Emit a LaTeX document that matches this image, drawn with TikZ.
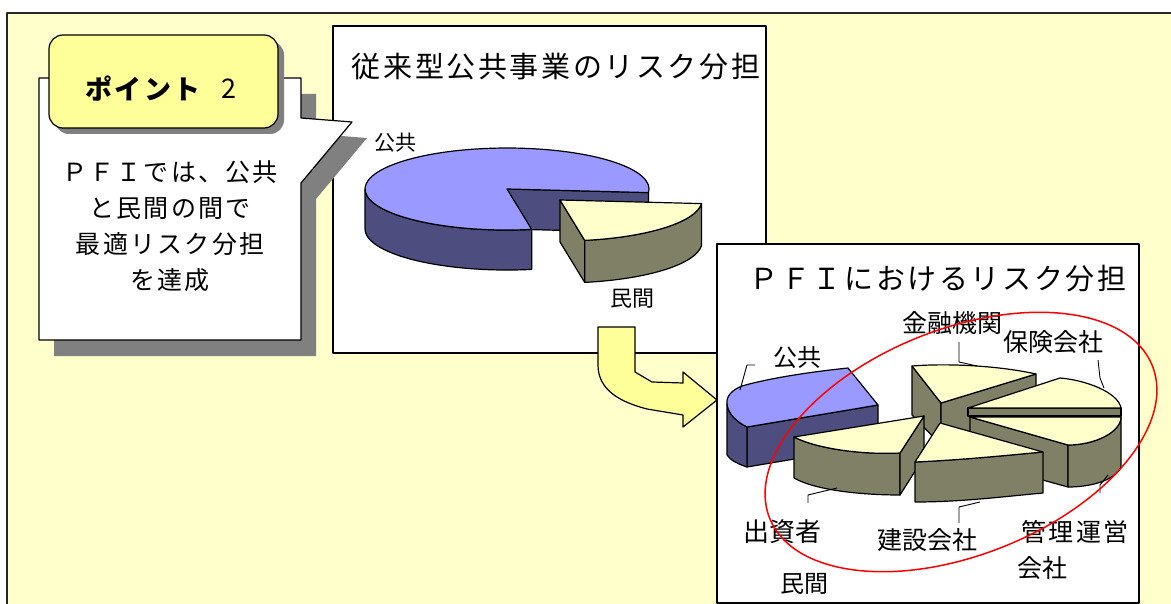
\documentclass[tikz,border=0pt]{standalone}
\usepackage{fontspec}
\newfontfamily\jp{Noto Sans CJK JP}
\newfontfamily\jpls{Noto Sans CJK JP}[LetterSpace=9]
\definecolor{bgy}{HTML}{FFFFCC}
\definecolor{boxy}{HTML}{FFFF99}
\definecolor{pblue}{HTML}{9999FF}
\definecolor{dblue}{HTML}{4D4D80}
\definecolor{olive}{HTML}{808066}
\definecolor{lyel}{HTML}{FFFFCC}
\definecolor{shad}{HTML}{808080}
\begin{document}
\begin{tikzpicture}[x=1pt,y=-1pt,line join=round,
  outl/.style={draw=black,line width=1.2pt},
  topB/.style={outl,fill=pblue}, sideB/.style={outl,fill=dblue},
  topY/.style={outl,fill=lyel}, sideO/.style={outl,fill=olive},
  leader/.style={draw=black,line width=0.9pt},
  jtxt/.style={inner sep=0pt,font=\jp\fontsize{#1}{#1}\selectfont},
  jls/.style={inner sep=0pt,font=\jpls\fontsize{#1}{#1}\selectfont},
  panel/.style={draw=black,fill=white,line width=1.2pt}]
\useasboundingbox (0,0) rectangle (1171,604);
\fill[white] (0,0) rectangle (1171,604);
\fill[bgy] (7,13) rectangle (1175,610);
\draw[line width=1.6pt,black!85] (7,610) -- (7,13) -- (1175,13);

% ---------- panel 1 ----------
\draw[panel] (333,26) rectangle (766,353);
\node[jls=29] (t1) at (556,67) {従来型公共事業のリスク分担};
% big slice
\path[sideB] (531.7,229.4) arc[start angle=80,end angle=180,x radius=142,y radius=41] -- ++(0,40) arc[start angle=180,end angle=80,x radius=142,y radius=41] -- cycle;
\path[sideB] (507,189) -- (648.5,192.6) -- (648.5,232.6) -- (507,229) -- cycle;
\path[topB] (507,189) -- (531.7,229.4) arc[start angle=80,end angle=365,x radius=142,y radius=41] -- cycle;
% exploded slice
\path[sideO] (560,200) -- (584.7,240.4) -- ++(0,42) -- (560,242) -- cycle;
\path[sideO] (701.5,203.6) arc[start angle=5,end angle=80,x radius=142,y radius=41] -- ++(0,42) arc[start angle=80,end angle=5,x radius=142,y radius=41] -- cycle;
\path[topY] (560,200) -- (701.5,203.6) arc[start angle=5,end angle=80,x radius=142,y radius=41] -- cycle;
\node[jtxt=21] (k1) at (395,143) {公共};
\node[jtxt=22] (m1) at (632,299) {民間};

% ---------- arrow ----------
\draw[outl,fill=boxy] (598,327) -- (635,327) -- (635,372) -- (652,382) -- (683,383) -- (683,372) -- (717,400) -- (683,427) -- (683,415) -- (647,409) .. controls (620,402) and (598,390) .. (598,365) -- cycle;

% ---------- panel 2 ----------
\draw[panel] (717,244) rectangle (1139,603);
\node[jls=29] (t2) at (938,279) {ＰＦＩにおけるリスク分担};
% 金融機関
\path[sideO] (912,366) -- (941,403) -- (941,445) -- (912,415) -- cycle;
\path[sideO] (941,403) -- (1036,374) -- (1036,417) -- (941,445) -- cycle;
\path[topY] (912,366) .. controls (950,363) and (1000,366) .. (1036,374) -- (941,403) -- cycle;
% 保険会社
\path[sideO] (968,408) -- (1121,408) -- (1121,416) -- (968,416) -- cycle;
\path[topY] (968,408) -- (1060,378) .. controls (1085,380) and (1118,392) .. (1121,408) -- cycle;
% 管理運営会社
\path[sideO] (970,417) -- (1068,445) -- (1068,487) -- (970,460) -- cycle;
\path[sideO] (1068,445) .. controls (1095,445) and (1121,432) .. (1121,417) -- (1121,467) .. controls (1115,480) and (1092,487) .. (1068,487) -- cycle;
\path[topY] (970,417) -- (1121,417) .. controls (1121,432) and (1095,445) .. (1068,445) -- cycle;
% 公共
\path[sideB] (747,427) -- (878,405) -- (878,445) -- (747,467) -- cycle;
\path[sideB] (727,404) .. controls (728,414) and (737,422) .. (747,427) -- (747,467) .. controls (738,464) and (730,460) .. (727,455) -- cycle;
\path[topB] (747,427) -- (878,405) -- (848,368) .. controls (810,372) and (770,378) .. (742,386) .. controls (732,390) and (726,396) .. (727,404) .. controls (728,414) and (737,422) .. (747,427) -- cycle;
% 出資者
\path[sideO] (794,437) .. controls (815,448) and (860,455) .. (900,453) -- (900,495) .. controls (860,495) and (815,490) .. (794,478) -- cycle;
\path[sideO] (900,453) -- (924,416) -- (924,457) -- (900,495) -- cycle;
\path[topY] (794,437) -- (924,416) -- (900,453) .. controls (860,455) and (815,448) .. (794,437) -- cycle;
% 建設会社
\path[sideO] (915,462) .. controls (960,460) and (1000,456) .. (1043,452) -- (1043,493) .. controls (1000,497) and (960,502) .. (915,502) -- cycle;
\path[topY] (940,423) -- (1043,452) .. controls (1000,456) and (960,460) .. (915,462) -- cycle;

% labels
\node[jtxt=24] (k2) at (797,358) {公共};
\node[jtxt=25] (fin) at (952,323) {金融機関};
\node[jtxt=25] (ins) at (1053,342) {保険会社};
\node[jtxt=26] (inv) at (782,532) {出資者};
\node[jtxt=25] (con) at (927,540) {建設会社};
\node[jls=25] (ops) at (1075,532) {管理運営};
\node[jtxt=25,anchor=west] (ops2) at (1017,568) {会社};
\node[jtxt=24] (m2) at (804,584) {民間};

% leaders
\coordinate (a1) at (755,365); \coordinate (a2) at (740,390);
\draw[leader] (a1) -- (747,365) -- (a2);
\coordinate (b1) at (959,342); \coordinate (b2) at (977,366);
\draw[leader] (b1) -- (959,362) -- (b2);
\coordinate (c1) at (1098,360); \coordinate (c2) at (1104,388);
\draw[leader] (c1) -- (1100,378) -- (c2);
\coordinate (d1) at (808,503); \coordinate (d2) at (837,488);
\draw[leader] (d1) -- (808,495) -- (d2);
\coordinate (e1) at (959,523); \coordinate (e2) at (980,502);
\draw[leader] (e1) -- (959,507) -- (e2);
\coordinate (f1) at (1100,493); \coordinate (f2) at (1108,475);
\draw[leader] (f1) -- (1100,485) -- (f2);

% red ellipse
\draw[red,line width=1.5pt,rotate around={21.7:(961,442)}] (961,442) ellipse [x radius=206,y radius=113];

% ---------- callout ----------
\fill[shad,shift={(15,16)}] (39,78) -- (301,78) -- (301,118) -- (352,122) -- (301,183) -- (301,340) -- (39,340) -- cycle;
\draw[outl,fill=white] (39,78) -- (301,78) -- (301,118) -- (352,122) -- (301,183) -- (301,340) -- (39,340) -- cycle;
\fill[shad,rounded corners=14pt] (55,41) rectangle (284,134);
\draw[outl,fill=boxy,rounded corners=14pt] (49,35) rectangle (278,128);
\node[jtxt=27,font=\jpls\fontsize{27}{27}\selectfont\bfseries] (pt) at (143,89) {ポイント};
\node[jtxt=27] (pn) at (229,89) {2};
\node[jls=25,align=center,font=\jpls\fontsize{25}{36}\selectfont] (msg) at (170,226) {ＰＦＩでは、公共\\と民間の間で\\最適リスク分担\\を達成};
\end{tikzpicture}
\end{document}
